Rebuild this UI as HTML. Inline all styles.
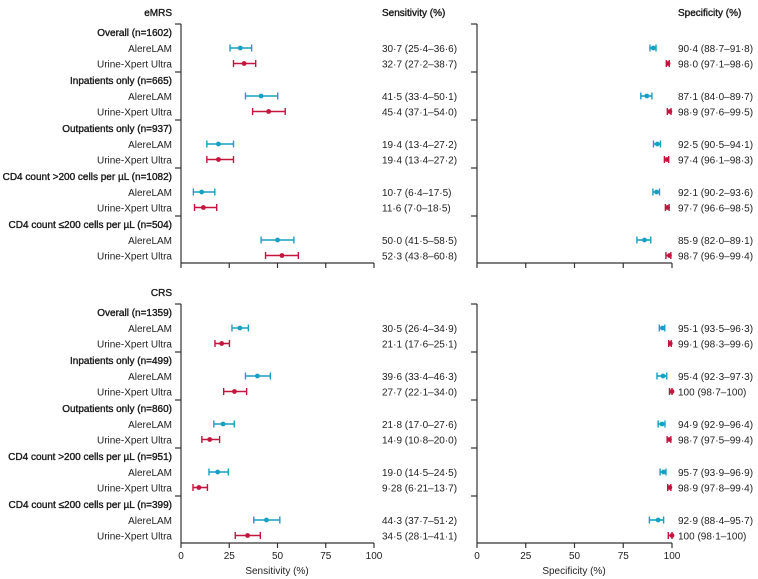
<!DOCTYPE html>
<html><head><meta charset="utf-8"><style>
body{margin:0;background:#fff;}
svg{display:block;font-family:"Liberation Sans",sans-serif;}
text{font-size:10px;fill:#222;}
</style></head><body>
<svg id="c" width="758" height="579" viewBox="0 0 758 579"></svg>
<script>
const groups=["Overall","Inpatients only","Outpatients only","CD4 count >200 cells per µL","CD4 count ≤200 cells per µL"];
const tests=["AlereLAM","Urine-Xpert Ultra"];
const nE=[1602,665,937,1082,504];
const nC=[1359,499,860,951,399];
// eMRS sensitivity [est,lo,hi] per group: Alere, Xpert
const sensE=[[30.7,25.4,36.6],[32.7,27.2,38.7],[41.5,33.4,50.1],[45.4,37.1,54.0],[19.4,13.4,27.2],[19.4,13.4,27.2],[10.7,6.4,17.5],[11.6,7.0,18.5],[50.0,41.5,58.5],[52.3,43.8,60.8]];
const specE=[[90.4,88.7,91.8],[98.0,97.1,98.6],[87.1,84.0,89.7],[98.9,97.6,99.5],[92.5,90.5,94.1],[97.4,96.1,98.3],[92.1,90.2,93.6],[97.7,96.6,98.5],[85.9,82.0,89.1],[98.7,96.9,99.4]];
const sensC=[[30.5,26.4,34.9],[21.1,17.6,25.1],[39.6,33.4,46.3],[27.7,22.1,34.0],[21.8,17.0,27.6],[14.9,10.8,20.0],[19.0,14.5,24.5],[9.28,6.21,13.7],[44.3,37.7,51.2],[34.5,28.1,41.1]];
const specC=[[95.1,93.5,96.3],[99.1,98.3,99.6],[95.4,92.3,97.3],[100,98.7,100],[94.9,92.9,96.4],[98.7,97.5,99.4],[95.7,93.9,96.9],[98.9,97.8,99.4],[92.9,88.4,95.7],[100,98.1,100]];
const ticks=[0,25,50,75,100];
const ns="http://www.w3.org/2000/svg";
const svg=document.getElementById('c');
function el(t,a,p){const e=document.createElementNS(ns,t);for(const k in a)e.setAttribute(k,a[k]);(p||svg).appendChild(e);return e;}
function txt(x,y,s,anchor,name,extra){const e=el('text',Object.assign({x:x,y:y,'text-anchor':anchor||'start'},extra||{}));e.textContent=s;


return e;}
const xs=v=>181+v*1.93, xp=v=>477+v*1.95;
function fmtTriple(d){const f=v=>{let s=Number.isInteger(v)&&v!==100?v.toFixed(1):String(v);return s.replace('.','·');};return f(d[0])+' ('+f(d[1])+'–'+f(d[2])+')';}
const cols=['#1a9fc4','#c2163f'];
const semi={'stroke':'#111','stroke-width':'0.35','fill':'#111'};
function section(top,title,ns_,sens,spec,showLabels){
  txt(172,top-247,title,'end','section-title-'+title.toLowerCase(),Object.assign({'font-size':'11'},semi));
  [[181,xs],[477,xp]].forEach(([x0,sc],pi)=>{
    const g=el('g',{});
    
    
    el('line',{x1:x0,y1:top-239,x2:x0,y2:top,stroke:'#333','stroke-width':1.2},g);
    el('line',{x1:x0,y1:top,x2:sc(100),y2:top,stroke:'#333','stroke-width':1.2},g);
    for(let i=0;i<5;i++){const y=top-239+i*48;el('line',{x1:x0-6,y1:y,x2:x0,y2:y,stroke:'#333','stroke-width':1.2},g);}
    ticks.forEach(t=>{el('line',{x1:sc(t),y1:top,x2:sc(t),y2:top+5,stroke:'#333','stroke-width':1.2},g);
      if(showLabels){txt(sc(t),top+16,String(t),'middle','tick-label');}});
  });
  groups.forEach((gname,gi)=>{
    const b=top-239+gi*48;
    txt(172,b+12,gname+' (n='+ns_[gi]+')','end','group-label',semi);
    tests.forEach((tn,ti)=>{
      const y=b+24+ti*15.5;
      txt(172,y+4,tn,'end','test-label');
      const idx=gi*2+ti;
      [[sens,xs,382],[spec,xp,678]].forEach(([arr,sc,tx],k)=>{
        const d=arr[idx];const c=cols[ti];
        const g=el('g',{});
        
        
        el('line',{x1:sc(d[1]),y1:y,x2:sc(d[2]),y2:y,stroke:c,'stroke-width':1.6},g);
        el('line',{x1:sc(d[1]),y1:y-3.5,x2:sc(d[1]),y2:y+3.5,stroke:c,'stroke-width':1.4},g);
        el('line',{x1:sc(d[2]),y1:y-3.5,x2:sc(d[2]),y2:y+3.5,stroke:c,'stroke-width':1.4},g);
        el('circle',{cx:sc(d[0]),cy:y,r:2.4,fill:c},g);
        txt(tx,y+4,fmtTriple(d),'start','ci-value');
      });
    });
  });
}
txt(382,16,'Sensitivity (%)','start','sensitivity-header',semi);
txt(678,16,'Specificity (%)','start','specificity-header',semi);
section(263,'eMRS',nE,sensE,specE,false);
section(543,'CRS',nC,sensC,specC,true);
txt(277,574,'Sensitivity (%)','middle','x-axis-title-sensitivity',{'font-size':'9'});
txt(574,574,'Specificity (%)','middle','x-axis-title-specificity',{'font-size':'9'});
</script>
</body></html>
